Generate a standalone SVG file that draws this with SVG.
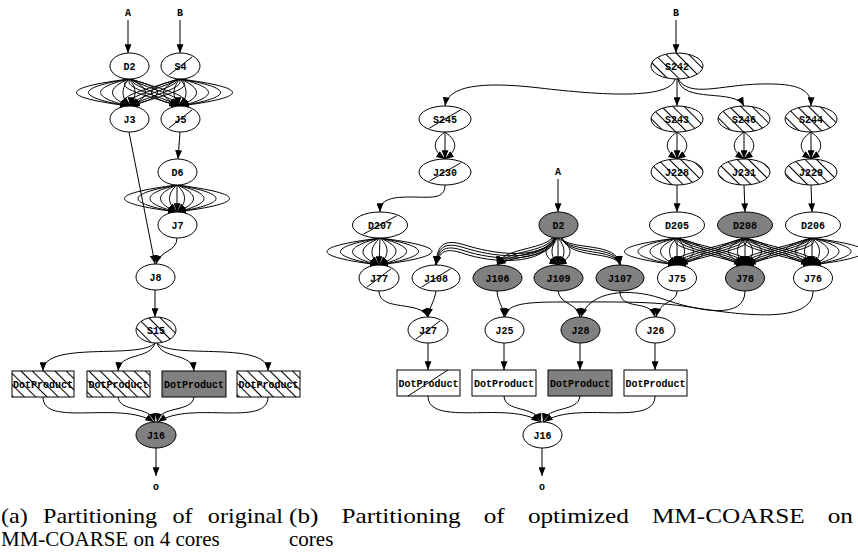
<svg xmlns="http://www.w3.org/2000/svg" width="858" height="556" viewBox="0 0 858 556">
<style>
.e{fill:none;stroke:#000;stroke-width:1;marker-end:url(#ah)}
.n{stroke:#000;stroke-width:1;fill:#fff}
.g{fill:#808080}
.h{fill:url(#hatch)}
.sl{stroke:#000;stroke-width:1}
.t{font-family:"Liberation Mono",monospace;font-size:10px;font-weight:bold;text-anchor:middle;fill:#000}
.cap{font-family:"Liberation Serif",serif;font-size:21px;fill:#000}
</style>
<defs>
<marker id="ah" viewBox="0 0 10 8" refX="10" refY="4" markerWidth="9" markerHeight="7" markerUnits="userSpaceOnUse" orient="auto"><path d="M0,0 L10,4 L0,8 z" fill="#000"/></marker>
<pattern id="hatch" width="8" height="8" patternUnits="userSpaceOnUse" patternTransform="rotate(-45)"><rect width="8" height="8" fill="#fff"/><line x1="0.5" y1="0" x2="0.5" y2="8" stroke="#000" stroke-width="1.1"/></pattern>
</defs>
<rect width="858" height="556" fill="#fff"/>

<g id="edges">
<!-- left diagram -->
<path class="e" d="M128,20 L128,53"/>
<path class="e" d="M180,20 L180,53"/>
<!-- D2->J3 -->
<path class="e" d="M129,79 C59,88 59,97 129,106"/>
<path class="e" d="M129,79 C75,88 75,97 129,106"/>
<path class="e" d="M129,79 C91,88 91,97 129,106"/>
<path class="e" d="M129,79 C107,88 107,97 129,106"/>
<path class="e" d="M129,79 C121,88 121,97 129,106"/>
<path class="e" d="M129,79 C137,88 137,97 129,106"/>
<path class="e" d="M129,79 C151,88 151,97 129,106"/>
<path class="e" d="M129,79 C167,88 167,97 129,106"/>
<!-- S4->J5 -->
<path class="e" d="M180,79 C250,88 250,97 180,106"/>
<path class="e" d="M180,79 C234,88 234,97 180,106"/>
<path class="e" d="M180,79 C218,88 218,97 180,106"/>
<path class="e" d="M180,79 C202,88 202,97 180,106"/>
<path class="e" d="M180,79 C188,88 188,97 180,106"/>
<path class="e" d="M180,79 C172,88 172,97 180,106"/>
<path class="e" d="M180,79 C158,88 158,97 180,106"/>
<path class="e" d="M180,79 C142,88 142,97 180,106"/>
<!-- D2->J5 -->
<path class="e" d="M131,79 C107,88 154,97 178,106"/>
<path class="e" d="M131,79 C119,88 166,97 178,106"/>
<path class="e" d="M131,79 C131,88 178,97 178,106"/>
<path class="e" d="M131,79 C143,88 190,97 178,106"/>
<path class="e" d="M131,79 C155,88 202,97 178,106"/>
<!-- S4->J3 -->
<path class="e" d="M178,79 C154,88 107,97 131,106"/>
<path class="e" d="M178,79 C166,88 119,97 131,106"/>
<path class="e" d="M178,79 C178,88 131,97 131,106"/>
<path class="e" d="M178,79 C190,88 143,97 131,106"/>
<path class="e" d="M178,79 C202,88 155,97 131,106"/>
<path class="e" d="M180,132 L178,159"/>
<!-- D6->J7 -->
<path class="e" d="M177,185 C107,194 107,203 177,212"/>
<path class="e" d="M177,185 C125,194 125,203 177,212"/>
<path class="e" d="M177,185 C141,194 141,203 177,212"/>
<path class="e" d="M177,185 C155,194 155,203 177,212"/>
<path class="e" d="M177,185 C167,194 167,203 177,212"/>
<path class="e" d="M177,185 C177,194 177,203 177,212"/>
<path class="e" d="M177,185 C187,194 187,203 177,212"/>
<path class="e" d="M177,185 C199,194 199,203 177,212"/>
<path class="e" d="M177,185 C213,194 213,203 177,212"/>
<path class="e" d="M177,185 C229,194 229,203 177,212"/>
<path class="e" d="M177,185 C247,194 247,203 177,212"/>
<path class="e" d="M129,132 L155,264"/>
<path class="e" d="M177,238 C177,252 160,250 156,264"/>
<path class="e" d="M155,290 L155,317"/>
<path class="e" d="M155,343 C140,360 43,340 43,371"/>
<path class="e" d="M155,343 C150,360 120,352 118,371"/>
<path class="e" d="M157,343 C162,360 192,352 194,371"/>
<path class="e" d="M157,343 C172,360 268,340 268,371"/>
<path class="e" d="M43,397 C43,428 120,400 154,422"/>
<path class="e" d="M118,397 C120,413 150,405 155,422"/>
<path class="e" d="M194,397 C192,413 160,405 157,422"/>
<path class="e" d="M268,397 C268,428 190,400 158,422"/>
<path class="e" d="M156,448 L156,476"/>

<!-- right diagram -->
<path class="e" d="M676,20 L676,53"/>
<path class="e" d="M677,79 L677,106"/>
<path class="e" d="M675,79 C670,100 600,95 540,88 C480,81 448,86 445,106"/>
<path class="e" d="M678,79 C682,104 735,88 744,106"/>
<path class="e" d="M678,79 C690,98 720,85 760,84 C800,83 811,90 811,106"/>
<!-- small lenses -->
<path class="e" d="M445,132 C432,141 432,150 445,159"/>
<path class="e" d="M445,132 L445,159"/>
<path class="e" d="M445,132 C458,141 458,150 445,159"/>
<path class="e" d="M677,132 C664,141 664,150 677,159"/>
<path class="e" d="M677,132 L677,159"/>
<path class="e" d="M677,132 C690,141 690,150 677,159"/>
<path class="e" d="M744,132 C731,141 731,150 744,159"/>
<path class="e" d="M744,132 L744,159"/>
<path class="e" d="M744,132 C757,141 757,150 744,159"/>
<path class="e" d="M811,132 C798,141 798,150 811,159"/>
<path class="e" d="M811,132 L811,159"/>
<path class="e" d="M811,132 C824,141 824,150 811,159"/>
<path class="e" d="M445,185 C445,200 430,197 410,197 C390,197 380,200 380,212"/>
<path class="e" d="M677,185 L677,212"/>
<path class="e" d="M744,185 L745,212"/>
<path class="e" d="M811,185 L812,212"/>
<path class="e" d="M558,179 L558,212"/>
<!-- D207->J77 -->
<path class="e" d="M380,238 C310,247 309,256 379,265"/>
<path class="e" d="M380,238 C328,247 327,256 379,265"/>
<path class="e" d="M380,238 C344,247 343,256 379,265"/>
<path class="e" d="M380,238 C358,247 357,256 379,265"/>
<path class="e" d="M380,238 C370,247 369,256 379,265"/>
<path class="e" d="M380,238 C380,247 379,256 379,265"/>
<path class="e" d="M380,238 C390,247 389,256 379,265"/>
<path class="e" d="M380,238 C402,247 401,256 379,265"/>
<path class="e" d="M380,238 C416,247 415,256 379,265"/>
<path class="e" d="M380,238 C432,247 431,256 379,265"/>
<path class="e" d="M380,238 C450,247 449,256 379,265"/>
<!-- D2 -> J108 -->
<path class="e" d="M555,238 C540,262 490,253 465,245 C445,239 437,243 436,265"/>
<path class="e" d="M555,238 C540,264 490,256 465,248 C446,242 438,245 436,265"/>
<path class="e" d="M556,238 C541,266 490,259 465,251 C447,245 439,247 436,265"/>
<path class="e" d="M556,238 C542,268 490,262 465,254 C448,248 440,249 436,265"/>
<!-- D2 -> J106 -->
<path class="e" d="M552,238 C542,250 502,248 497,265"/>
<path class="e" d="M553,238 C546,253 506,250 497,265"/>
<path class="e" d="M554,238 C550,256 510,252 497,265"/>
<path class="e" d="M555,238 C553,259 514,254 497,265"/>
<!-- D2 -> J109 -->
<path class="e" d="M558,238 C542,247 542,256 558,265"/>
<path class="e" d="M558,238 C550,247 550,256 558,265"/>
<path class="e" d="M558,238 L558,265"/>
<path class="e" d="M558,238 C566,247 566,256 558,265"/>
<path class="e" d="M558,238 C574,247 574,256 558,265"/>
<!-- D2 -> J107 -->
<path class="e" d="M561,238 C570,251 618,241 620,265"/>
<path class="e" d="M561,238 C570,254 617,244 620,265"/>
<path class="e" d="M562,238 C570,257 616,247 620,265"/>
<path class="e" d="M562,238 C570,260 615,250 620,265"/>
<!-- D205->J75 -->
<path class="e" d="M677,238 C607,247 607,256 677,265"/>
<path class="e" d="M677,238 C625,247 625,256 677,265"/>
<path class="e" d="M677,238 C641,247 641,256 677,265"/>
<path class="e" d="M677,238 C655,247 655,256 677,265"/>
<path class="e" d="M677,238 C667,247 667,256 677,265"/>
<path class="e" d="M677,238 L677,265"/>
<path class="e" d="M677,238 C687,247 687,256 677,265"/>
<path class="e" d="M677,238 C699,247 699,256 677,265"/>
<path class="e" d="M677,238 C713,247 713,256 677,265"/>
<!-- D208->J78 -->
<path class="e" d="M745,238 C709,247 709,256 745,265"/>
<path class="e" d="M745,238 C723,247 723,256 745,265"/>
<path class="e" d="M745,238 C735,247 735,256 745,265"/>
<path class="e" d="M745,238 L745,265"/>
<path class="e" d="M745,238 C755,247 755,256 745,265"/>
<path class="e" d="M745,238 C767,247 767,256 745,265"/>
<path class="e" d="M745,238 C781,247 781,256 745,265"/>
<!-- D206->J76 -->
<path class="e" d="M812,238 C776,247 776,256 812,265"/>
<path class="e" d="M812,238 C790,247 790,256 812,265"/>
<path class="e" d="M812,238 C802,247 802,256 812,265"/>
<path class="e" d="M812,238 L812,265"/>
<path class="e" d="M812,238 C822,247 822,256 812,265"/>
<path class="e" d="M812,238 C834,247 834,256 812,265"/>
<path class="e" d="M812,238 C848,247 848,256 812,265"/>
<path class="e" d="M812,238 C864,247 864,256 812,265"/>
<path class="e" d="M812,238 C882,247 882,256 812,265"/>
<!-- D205->J78 -->
<path class="e" d="M679,238 C659,247 723,256 743,265"/>
<path class="e" d="M679,238 C669,247 733,256 743,265"/>
<path class="e" d="M679,238 C679,247 743,256 743,265"/>
<path class="e" d="M679,238 C689,247 753,256 743,265"/>
<path class="e" d="M679,238 C699,247 763,256 743,265"/>
<!-- D208->J75 -->
<path class="e" d="M743,238 C723,247 659,256 679,265"/>
<path class="e" d="M743,238 C733,247 669,256 679,265"/>
<path class="e" d="M743,238 C743,247 679,256 679,265"/>
<path class="e" d="M743,238 C753,247 689,256 679,265"/>
<path class="e" d="M743,238 C763,247 699,256 679,265"/>
<!-- D208->J76 -->
<path class="e" d="M747,238 C727,247 790,256 810,265"/>
<path class="e" d="M747,238 C737,247 800,256 810,265"/>
<path class="e" d="M747,238 C747,247 810,256 810,265"/>
<path class="e" d="M747,238 C757,247 820,256 810,265"/>
<path class="e" d="M747,238 C767,247 830,256 810,265"/>
<!-- D206->J78 -->
<path class="e" d="M810,238 C790,247 727,256 747,265"/>
<path class="e" d="M810,238 C800,247 737,256 747,265"/>
<path class="e" d="M810,238 C810,247 747,256 747,265"/>
<path class="e" d="M810,238 C820,247 757,256 747,265"/>
<path class="e" d="M810,238 C830,247 767,256 747,265"/>
<!-- J row -> J2x row -->
<path class="e" d="M379,291 C379,312 420,300 428,317"/>
<path class="e" d="M436,291 C434,303 430,305 428,317"/>
<path class="e" d="M497,291 C498,303 503,305 504,317"/>
<path class="e" d="M558,291 C560,305 578,303 580,317"/>
<path class="e" d="M620,291 C620,312 650,298 655,317"/>
<path class="e" d="M677,291 C677,303 660,300 656,317"/>
<path class="e" d="M745,291 C745,320 700,312 660,298 C630,288 590,290 581,317"/>
<path class="e" d="M813,291 C813,325 740,315 690,307 C650,301 620,302 560,302 C520,302 507,305 505,317"/>
<path class="e" d="M428,343 L428,370"/>
<path class="e" d="M504,343 L504,370"/>
<path class="e" d="M580,343 L580,370"/>
<path class="e" d="M655,343 L655,370"/>
<path class="e" d="M428,396 C428,428 510,400 540,422"/>
<path class="e" d="M504,396 C505,413 535,405 541,422"/>
<path class="e" d="M580,396 C578,413 548,405 543,422"/>
<path class="e" d="M655,396 C655,428 575,400 544,422"/>
<path class="e" d="M542,448 L542,476"/>
</g>

<!-- left nodes -->
<g id="a_A"><text class="t" x="128" y="16">A</text></g>
<g id="a_B"><text class="t" x="180" y="16">B</text></g>
<g id="a_D2"><ellipse class="n" cx="129.5" cy="66" rx="19.5" ry="13"/><text class="t" x="129.5" y="69.5">D2</text></g>
<g id="a_S4"><ellipse class="n" cx="180.5" cy="66" rx="19.5" ry="13"/><line class="sl" x1="168.8" y1="75.1" x2="192.2" y2="56.9"/><text class="t" x="180.5" y="69.5">S4</text></g>
<g id="a_J3"><ellipse class="n" cx="129.5" cy="119" rx="19.5" ry="13"/><text class="t" x="129.5" y="122.5">J3</text></g>
<g id="a_J5"><ellipse class="n" cx="180.5" cy="119" rx="19.5" ry="13"/><line class="sl" x1="168.8" y1="128.1" x2="192.2" y2="109.9"/><text class="t" x="180.5" y="122.5">J5</text></g>
<g id="a_D6"><ellipse class="n" cx="177.5" cy="172" rx="19.5" ry="13"/><text class="t" x="177.5" y="175.5">D6</text></g>
<g id="a_J7"><ellipse class="n" cx="177.5" cy="225" rx="19.5" ry="13"/><text class="t" x="177.5" y="228.5">J7</text></g>
<g id="a_J8"><ellipse class="n" cx="155.5" cy="277" rx="19.5" ry="13"/><text class="t" x="155.5" y="280.5">J8</text></g>
<g id="a_S15"><ellipse class="n h" cx="156" cy="330" rx="20" ry="13"/><text class="t" x="156" y="333.5">S15</text></g>
<g id="a_DP1"><rect class="n h" x="12" y="371" width="62" height="26"/><text class="t" x="43" y="387.5">DotProduct</text></g>
<g id="a_DP2"><rect class="n h" x="87" y="371" width="63" height="26"/><text class="t" x="118.5" y="387.5">DotProduct</text></g>
<g id="a_DP3"><rect class="n g" x="162" y="371" width="64" height="26"/><text class="t" x="194" y="387.5">DotProduct</text></g>
<g id="a_DP4"><rect class="n h" x="237" y="371" width="63" height="26"/><text class="t" x="268.5" y="387.5">DotProduct</text></g>
<g id="a_J16"><ellipse class="n g" cx="156" cy="435" rx="20" ry="13"/><text class="t" x="156" y="438.5">J16</text></g>
<g id="a_o"><text class="t" x="156" y="490">o</text></g>

<!-- right nodes -->
<g id="b_B"><text class="t" x="676" y="16">B</text></g>
<g id="b_S242"><ellipse class="n h" cx="677" cy="66" rx="26" ry="13"/><text class="t" x="677" y="69.5">S242</text></g>
<g id="b_S245"><ellipse class="n" cx="445" cy="119" rx="26" ry="13"/><line class="sl" x1="429.4" y1="128.1" x2="460.6" y2="109.9"/><text class="t" x="445" y="122.5">S245</text></g>
<g id="b_S243"><ellipse class="n h" cx="677" cy="119" rx="26" ry="13"/><text class="t" x="677" y="122.5">S243</text></g>
<g id="b_S246"><ellipse class="n h" cx="744" cy="119" rx="26" ry="13"/><text class="t" x="744" y="122.5">S246</text></g>
<g id="b_S244"><ellipse class="n h" cx="811" cy="119" rx="26" ry="13"/><text class="t" x="811" y="122.5">S244</text></g>
<g id="b_J230"><ellipse class="n" cx="445" cy="172" rx="26" ry="13"/><line class="sl" x1="429.4" y1="181.1" x2="460.6" y2="162.9"/><text class="t" x="445" y="175.5">J230</text></g>
<g id="b_J228"><ellipse class="n h" cx="677" cy="172" rx="26" ry="13"/><text class="t" x="677" y="175.5">J228</text></g>
<g id="b_J231"><ellipse class="n h" cx="744" cy="172" rx="26" ry="13"/><text class="t" x="744" y="175.5">J231</text></g>
<g id="b_J229"><ellipse class="n h" cx="811" cy="172" rx="26" ry="13"/><text class="t" x="811" y="175.5">J229</text></g>
<g id="b_A"><text class="t" x="558" y="175">A</text></g>
<g id="b_D207"><ellipse class="n" cx="380" cy="225" rx="27.5" ry="13"/><line class="sl" x1="363.5" y1="234.1" x2="396.5" y2="215.9"/><text class="t" x="380" y="228.5">D207</text></g>
<g id="b_D2"><ellipse class="n g" cx="558.5" cy="225" rx="19.5" ry="13"/><text class="t" x="558.5" y="228.5">D2</text></g>
<g id="b_D205"><ellipse class="n" cx="677" cy="225" rx="27.5" ry="13"/><text class="t" x="677" y="228.5">D205</text></g>
<g id="b_D208"><ellipse class="n g" cx="745" cy="225" rx="27.5" ry="13"/><text class="t" x="745" y="228.5">D208</text></g>
<g id="b_D206"><ellipse class="n" cx="813" cy="225" rx="27.5" ry="13"/><text class="t" x="813" y="228.5">D206</text></g>
<g id="b_J77"><ellipse class="n" cx="379" cy="278" rx="20" ry="13"/><line class="sl" x1="367" y1="287.1" x2="391" y2="268.9"/><text class="t" x="379" y="281.5">J77</text></g>
<g id="b_J108"><ellipse class="n" cx="436" cy="278" rx="24" ry="13"/><line class="sl" x1="421.6" y1="287.1" x2="450.4" y2="268.9"/><text class="t" x="436" y="281.5">J108</text></g>
<g id="b_J106"><ellipse class="n g" cx="497.5" cy="278" rx="24.5" ry="13"/><text class="t" x="497.5" y="281.5">J106</text></g>
<g id="b_J109"><ellipse class="n g" cx="558.5" cy="278" rx="24.5" ry="13"/><text class="t" x="558.5" y="281.5">J109</text></g>
<g id="b_J107"><ellipse class="n g" cx="620" cy="278" rx="24" ry="13"/><text class="t" x="620" y="281.5">J107</text></g>
<g id="b_J75"><ellipse class="n" cx="677" cy="278" rx="19.5" ry="13"/><text class="t" x="677" y="281.5">J75</text></g>
<g id="b_J78"><ellipse class="n g" cx="745" cy="278" rx="19.5" ry="13"/><text class="t" x="745" y="281.5">J78</text></g>
<g id="b_J76"><ellipse class="n" cx="813" cy="278" rx="19.5" ry="13"/><text class="t" x="813" y="281.5">J76</text></g>
<g id="b_J27"><ellipse class="n" cx="428" cy="330" rx="20" ry="13"/><line class="sl" x1="416" y1="339.1" x2="440" y2="320.9"/><text class="t" x="428" y="333.5">J27</text></g>
<g id="b_J25"><ellipse class="n" cx="504.5" cy="330" rx="19.5" ry="13"/><text class="t" x="504.5" y="333.5">J25</text></g>
<g id="b_J28"><ellipse class="n g" cx="580.5" cy="330" rx="19.5" ry="13"/><text class="t" x="580.5" y="333.5">J28</text></g>
<g id="b_J26"><ellipse class="n" cx="655.5" cy="330" rx="19.5" ry="13"/><text class="t" x="655.5" y="333.5">J26</text></g>
<g id="b_DP1"><rect class="n" x="397" y="370" width="63" height="26"/><line class="sl" x1="408" y1="396" x2="448" y2="370"/><text class="t" x="428.5" y="386.5">DotProduct</text></g>
<g id="b_DP2"><rect class="n" x="472" y="370" width="64" height="26"/><text class="t" x="504" y="386.5">DotProduct</text></g>
<g id="b_DP3"><rect class="n g" x="548" y="370" width="64" height="26"/><text class="t" x="580" y="386.5">DotProduct</text></g>
<g id="b_DP4"><rect class="n" x="624" y="370" width="63" height="26"/><text class="t" x="655.5" y="386.5">DotProduct</text></g>
<g id="b_J16"><ellipse class="n" cx="542.5" cy="435" rx="19.5" ry="13"/><text class="t" x="542.5" y="438.5">J16</text></g>
<g id="b_o"><text class="t" x="542" y="490">o</text></g>

<g id="captions">
<text class="cap" x="1" y="523" word-spacing="8" textLength="282" lengthAdjust="spacingAndGlyphs">(a) Partitioning of original</text>
<text class="cap" x="1" y="546">MM-COARSE on 4 cores</text>
<text class="cap" x="289" y="523" word-spacing="14" textLength="564" lengthAdjust="spacingAndGlyphs">(b) Partitioning of optimized MM-COARSE on</text>
<text class="cap" x="289" y="546">cores</text>
</g>
</svg>
